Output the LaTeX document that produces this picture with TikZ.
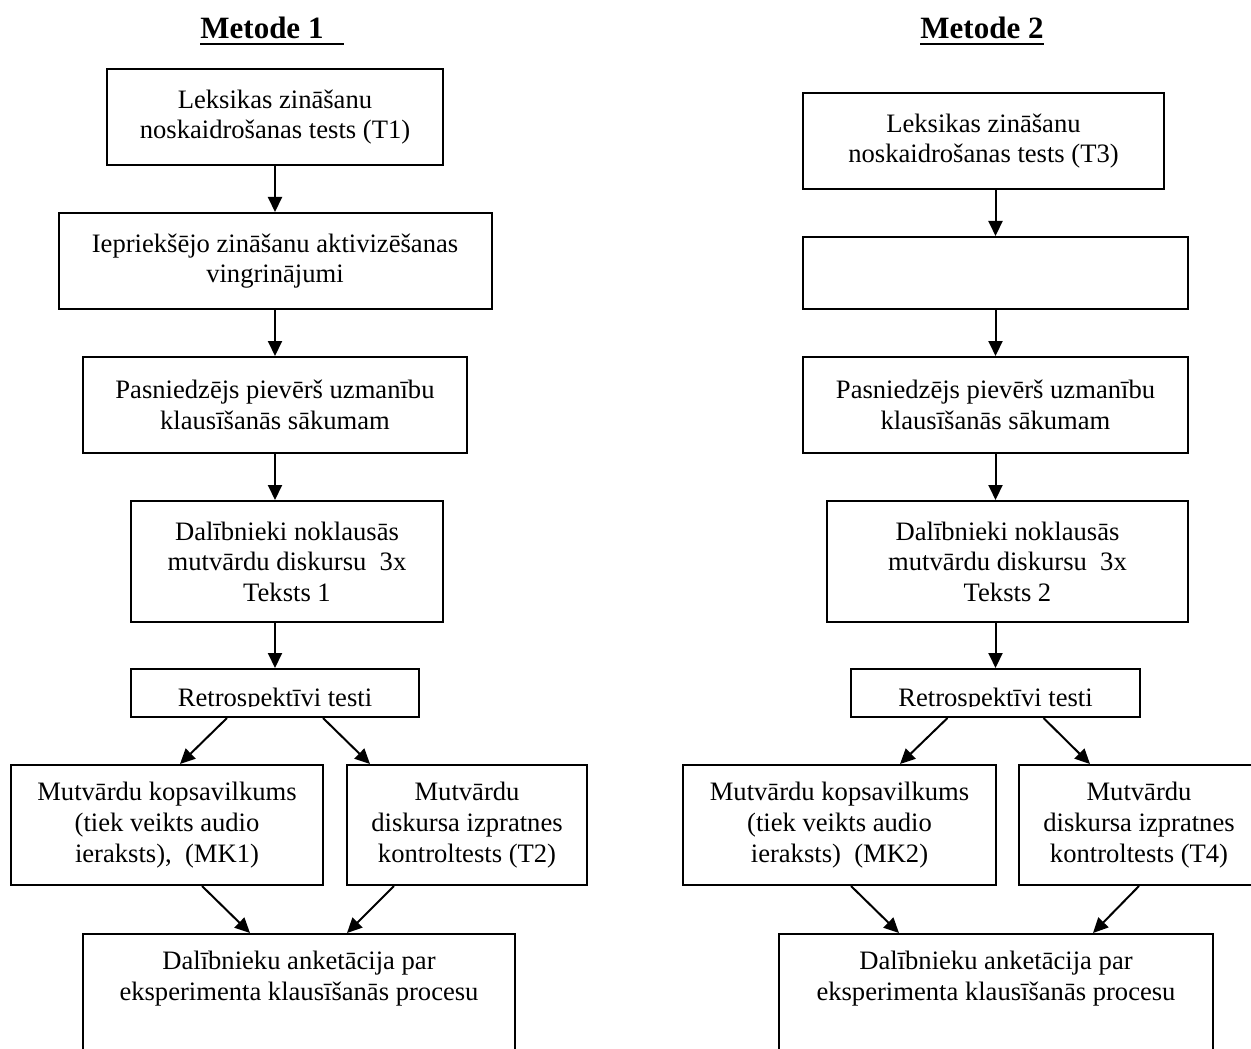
\documentclass[tikz,border=0pt]{standalone}
\usepackage{fontspec}
\setmainfont{Liberation Serif}
\usetikzlibrary{arrows.meta}
\begin{document}
\begin{tikzpicture}[x=0.5pt,y=-0.5pt,
  box/.style={draw,line width=1pt,align=center,inner sep=0pt,font=\fontsize{13.3}{15.3}\selectfont},
  txt/.style={align=center,inner sep=0pt,font=\fontsize{13.3}{15.3}\selectfont},
  arr/.style={line width=1pt,-{Triangle[length=7.5pt,width=7pt]}},
  ttl/.style={inner sep=0pt,font=\fontsize{15.5}{18}\selectfont\bfseries}]
\useasboundingbox (0,0) rectangle (1251,1048);
\clip (0,0) rectangle (1251,1048);
\node[ttl,anchor=base west] (m1) at (200,39) {Metode 1\hspace*{10pt}};
\draw[line width=1.2pt] ([yshift=-2.5pt]m1.base west) -- ([yshift=-2.5pt]m1.base east);
\node[box,minimum width=168pt,minimum height=48pt] (lex1) at (275,117) {Leksikas zināšanu\\noskaidrošanas tests (T1)};
\node[box,minimum width=216.5pt,minimum height=48pt] (iep1) at (275,261) {Iepriekšējo zināšanu aktivizēšanas\\vingrinājumi};
\node[box,minimum width=192pt,minimum height=48pt] (pas1) at (275,405) {Pasniedzējs pievērš uzmanību\\klausīšanās sākumam};
\node[box,minimum width=156pt,minimum height=60.5pt] (dal1) at (287,561.5) {Dalībnieki noklausās\\mutvārdu diskursu\ \ 3x\\Teksts 1};
\node[box,minimum width=144pt,minimum height=24pt] (ret1) at (275,693) {};
\begin{scope}
\clip (ret1.north west) rectangle ([yshift=5.75pt]ret1.south east);
\node[txt,anchor=base] (ret1t) at ([yshift=5.75pt]ret1.south) {Retrospektīvi testi};
\end{scope}
\node[box,minimum width=156pt,minimum height=60pt] (kop1) at (167,825) {Mutvārdu kopsavilkums\\(tiek veikts audio\\ieraksts),\ \ (MK1)};
\node[box,minimum width=120pt,minimum height=60pt] (kon1) at (467,825) {Mutvārdu\\diskursa izpratnes\\kontroltests (T2)};
\node[box,minimum width=216pt,minimum height=80pt,anchor=north] (ank1) at (299,933) {};
\node[txt,anchor=north] (ank1t) at ([yshift=-8.8pt]ank1.north) {Dalībnieku anketācija par\\eksperimenta klausīšanās procesu};
\draw[arr] (lex1.south) -- (iep1.north);
\draw[arr] (iep1.south) -- (pas1.north);
\draw[arr] (pas1.south) -- (pas1.south |- dal1.north);
\draw[arr] (dal1.south -| ret1.north) -- (ret1.north);
\draw[arr] ([xshift=-24pt]ret1.south) -- ([xshift=6.5pt]kop1.north);
\draw[arr] ([xshift=24pt]ret1.south) -- ([xshift=-48.5pt]kon1.north);
\draw[arr] ([xshift=17.5pt]kop1.south) -- ([xshift=-24.5pt]ank1.north);
\draw[arr] ([xshift=-36.5pt]kon1.south) -- ([xshift=24pt]ank1.north);
\node[ttl,anchor=base west] (m2) at (920,39) {Metode 2};
\draw[line width=1.2pt] ([yshift=-2.5pt]m2.base west) -- ([yshift=-2.5pt]m2.base east);
\node[box,minimum width=180.5pt,minimum height=48pt] (lex2) at (983.5,141) {Leksikas zināšanu\\noskaidrošanas tests (T3)};
\node[box,minimum width=192.5pt,minimum height=36pt] (tuk2) at (995.5,273) {};
\node[box,minimum width=192.5pt,minimum height=48pt] (pas2) at (995.5,405) {Pasniedzējs pievērš uzmanību\\klausīšanās sākumam};
\node[box,minimum width=180.5pt,minimum height=60.5pt] (dal2) at (1007.5,561.5) {Dalībnieki noklausās\\mutvārdu diskursu\ \ 3x\\Teksts 2};
\node[box,minimum width=144.5pt,minimum height=24pt] (ret2) at (995.5,693) {};
\begin{scope}
\clip (ret2.north west) rectangle ([yshift=5.75pt]ret2.south east);
\node[txt,anchor=base] (ret2t) at ([yshift=5.75pt]ret2.south) {Retrospektīvi testi};
\end{scope}
\node[box,minimum width=156.5pt,minimum height=60pt] (kop2) at (839.5,825) {Mutvārdu kopsavilkums\\(tiek veikts audio\\ieraksts)\ \ (MK2)};
\node[box,minimum width=120pt,minimum height=60pt] (kon2) at (1139,825) {Mutvārdu\\diskursa izpratnes\\kontroltests (T4)};
\node[box,minimum width=217pt,minimum height=80pt,anchor=north] (ank2) at (996,933) {};
\node[txt,anchor=north] (ank2t) at ([yshift=-8.8pt]ank2.north) {Dalībnieku anketācija par\\eksperimenta klausīšanās procesu};
\draw[arr] (lex2.south -| tuk2.north) -- (tuk2.north);
\draw[arr] (tuk2.south) -- (pas2.north);
\draw[arr] (pas2.south) -- (pas2.south |- dal2.north);
\draw[arr] (dal2.south -| ret2.north) -- (ret2.north);
\draw[arr] ([xshift=-24pt]ret2.south) -- ([xshift=30.25pt]kop2.north);
\draw[arr] ([xshift=24pt]ret2.south) -- ([xshift=-24.5pt]kon2.north);
\draw[arr] ([xshift=5.75pt]kop2.south) -- ([xshift=-48.5pt]ank2.north);
\draw[arr] (kon2.south) -- ([xshift=48.5pt]ank2.north);
\end{tikzpicture}
\end{document}
